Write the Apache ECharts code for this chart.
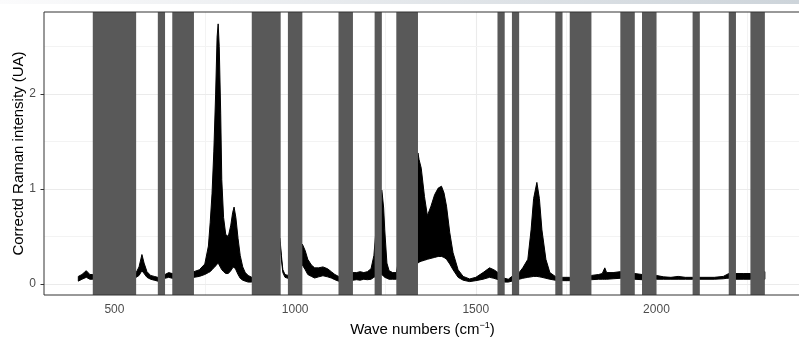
<!DOCTYPE html>
<html>
<head>
<meta charset="utf-8">
<script src="https://cdn.jsdelivr.net/npm/echarts@6/dist/echarts.min.js"></script>
<style>
  html, body { margin: 0; padding: 0; background: #ffffff; }
  #chart { width: 799px; height: 345px; }
</style>
</head>
<body>
<div id="chart"></div>
<script>
// Raman spectra: upper and lower envelopes of the set of corrected spectra
const wavenumbers = [
  400, 410, 422, 432, 440,
  560, 568, 576, 582, 590, 600, 610, 620,
  640, 650, 660,
  720, 735, 750, 760, 765, 770, 775, 780, 784, 787, 790, 794, 797, 802, 808, 815, 822, 827, 831, 836, 842, 848, 855, 862, 870, 880,
  958, 962, 966, 972, 980,
  1020, 1028, 1035, 1045, 1054, 1065, 1077, 1090, 1100, 1110, 1120,
  1160, 1170, 1180, 1190, 1200, 1210, 1218, 1232,
  1240, 1245, 1248, 1254, 1260, 1270, 1280,
  1340, 1343, 1349, 1358, 1366, 1376, 1386, 1396, 1405, 1412, 1419, 1428, 1437, 1451, 1465, 1483, 1500, 1520, 1538, 1550, 1558,
  1580, 1590, 1600,
  1620, 1630, 1644, 1653, 1660, 1669, 1676, 1683, 1694, 1705, 1720,
  1740, 1760,
  1820, 1840, 1850, 1857, 1862, 1880, 1900,
  1940, 1960,
  2000, 2020, 2040, 2060, 2080, 2100,
  2120, 2160, 2185, 2195, 2200,
  2220, 2240, 2260,
  2300
];
const upperEnvelope = [
  0.08, 0.10, 0.14, 0.10, 0.10,
  0.12, 0.18, 0.31, 0.22, 0.13, 0.09, 0.08, 0.07,
  0.10, 0.12, 0.11,
  0.13, 0.15, 0.21, 0.40, 0.65, 0.95, 1.40, 2.00, 2.60, 2.74, 2.50, 1.80, 1.10, 0.70, 0.52, 0.50, 0.62, 0.75, 0.81, 0.70, 0.48, 0.30, 0.18, 0.12, 0.09, 0.07,
  0.48, 0.30, 0.15, 0.10, 0.09,
  0.42, 0.35, 0.26, 0.20, 0.17, 0.17, 0.18, 0.16, 0.13, 0.10, 0.08,
  0.12, 0.12, 0.13, 0.12, 0.13, 0.16, 0.30, 0.95,
  0.99, 0.80, 0.57, 0.22, 0.14, 0.12, 0.12,
  1.38, 1.31, 1.22, 0.92, 0.72, 0.82, 0.94, 1.01, 1.03, 0.96, 0.82, 0.54, 0.33, 0.15, 0.08, 0.053, 0.07, 0.12, 0.17, 0.15, 0.13,
  0.06, 0.05, 0.08,
  0.12, 0.17, 0.26, 0.57, 0.90, 1.07, 0.90, 0.57, 0.26, 0.12, 0.08,
  0.07, 0.07,
  0.09, 0.10, 0.11, 0.17, 0.12, 0.12, 0.13,
  0.11, 0.10,
  0.09, 0.075, 0.07, 0.08, 0.07, 0.07,
  0.07, 0.07, 0.08, 0.10, 0.11,
  0.11, 0.11, 0.11,
  0.13
];
const lowerEnvelope = [
  0.03, 0.05, 0.07, 0.05, 0.05,
  0.07, 0.09, 0.14, 0.11, 0.07, 0.05, 0.04, 0.03,
  0.06, 0.07, 0.06,
  0.07, 0.08, 0.10, 0.12, 0.13, 0.15, 0.17, 0.19, 0.21, 0.22, 0.20, 0.17, 0.15, 0.13, 0.11, 0.11, 0.14, 0.17, 0.18, 0.15, 0.10, 0.06, 0.04, 0.03, 0.02, 0.02,
  0.44, 0.26, 0.12, 0.07, 0.06,
  0.20, 0.15, 0.10, 0.08, 0.063, 0.075, 0.087, 0.075, 0.063, 0.045, 0.03,
  0.04, 0.045, 0.04, 0.05, 0.045, 0.05, 0.07, 0.10,
  0.10, 0.08, 0.07, 0.06, 0.05, 0.05, 0.05,
  0.22, 0.23, 0.24, 0.25, 0.26, 0.27, 0.28, 0.29, 0.29, 0.28, 0.26, 0.21, 0.15, 0.07, 0.04, 0.025, 0.035, 0.05, 0.07, 0.06, 0.05,
  0.02, 0.02, 0.03,
  0.05, 0.06, 0.07, 0.075, 0.08, 0.08, 0.075, 0.07, 0.06, 0.05, 0.04,
  0.035, 0.035,
  0.045, 0.05, 0.05, 0.05, 0.05, 0.055, 0.06,
  0.05, 0.045,
  0.05, 0.05, 0.05, 0.05, 0.05, 0.05,
  0.05, 0.05, 0.055, 0.06, 0.06,
  0.05, 0.05, 0.05,
  0.05
];

// Spectral windows masked out of the analysis (start, end in cm-1)
const maskedWindows = [
  [440, 560], [620, 640], [660, 720], [880, 960], [980, 1020],
  [1120, 1160], [1220, 1240], [1280, 1340], [1560, 1580], [1600, 1620],
  [1720, 1740], [1760, 1820], [1900, 1940], [1960, 2000], [2100, 2120],
  [2200, 2220], [2260, 2300]
];

// Axis ticks and grid
const xTicks = [500, 1000, 1500, 2000];
const xMinorGrid = [750, 1250, 1750, 2250];
const yTicks = [0, 1, 2];
const yMinorGrid = [0.5, 1.5, 2.5];

const xRange = [305, 2400];
const yRange = [-0.116, 2.865];

const gridLines = [];
xTicks.forEach(v => gridLines.push({ xAxis: v, lineStyle: { color: '#EBEBEB', width: 1.1 } }));
xMinorGrid.forEach(v => gridLines.push({ xAxis: v, lineStyle: { color: '#F3F3F3', width: 1 } }));
yTicks.forEach(v => gridLines.push({ yAxis: v, lineStyle: { color: '#EBEBEB', width: 1.1 } }));
yMinorGrid.forEach(v => gridLines.push({ yAxis: v, lineStyle: { color: '#F3F3F3', width: 1 } }));

// Filled band between the lowest and highest spectrum
function renderEnvelope(params, api) {
  const pts = [];
  for (let i = 0; i < wavenumbers.length; i++) {
    pts.push(api.coord([wavenumbers[i], upperEnvelope[i]]));
  }
  for (let i = wavenumbers.length - 1; i >= 0; i--) {
    pts.push(api.coord([wavenumbers[i], lowerEnvelope[i]]));
  }
  return {
    type: 'polygon',
    shape: { points: pts },
    style: { fill: '#000000', stroke: '#000000', lineWidth: 1, lineJoin: 'round' }
  };
}

const chart = echarts.init(document.getElementById('chart'), null, { renderer: 'canvas' });

const axisFont = { fontFamily: '"Liberation Sans", Arial, sans-serif', fontSize: 12, color: '#4D4D4D' };

chart.setOption({
  animation: false,
  backgroundColor: '#ffffff',
  graphic: [{
    type: 'rect',
    left: 0, top: 0,
    shape: { width: 799, height: 4 },
    style: {
      fill: new echarts.graphic.LinearGradient(0, 0, 1, 0, [
        { offset: 0, color: '#fbfbfc' },
        { offset: 1, color: '#cdd4da' }
      ])
    },
    silent: true
  }],
  grid: {
    left: 44, top: 12, right: -2, bottom: 50,
    outerBoundsMode: 'none',
    containLabel: false,
    show: true, z: 20,
    backgroundColor: 'transparent',
    borderColor: '#333333', borderWidth: 1
  },
  xAxis: {
    type: 'value',
    min: xRange[0], max: xRange[1],
    name: 'Wave numbers (cm{sup|−1})',
    nameLocation: 'middle',
    nameGap: 26,
    nameMoveOverlap: false,
    nameTextStyle: {
      fontFamily: '"Liberation Sans", Arial, sans-serif',
      fontSize: 15, color: '#000000',
      rich: { sup: { fontSize: 9, padding: [0, 0, 9, 0], color: '#000000' } }
    },
    axisLine: { show: false },
    axisTick: { show: true, length: 3.5, customValues: xTicks, lineStyle: { color: '#333333', width: 1 } },
    axisLabel: Object.assign({ margin: 9, customValues: xTicks, formatter: v => String(v) }, axisFont),
    splitLine: { show: false }
  },
  yAxis: {
    type: 'value',
    min: yRange[0], max: yRange[1],
    name: 'Correctd Raman intensity (UA)',
    nameLocation: 'middle',
    nameGap: 18,
    nameMoveOverlap: false,
    nameTextStyle: { fontFamily: '"Liberation Sans", Arial, sans-serif', fontSize: 15, color: '#000000' },
    axisLine: { show: false },
    axisTick: { show: true, length: 3.5, customValues: yTicks, lineStyle: { color: '#333333', width: 1 } },
    axisLabel: Object.assign({ margin: 8, customValues: yTicks, formatter: v => String(v) }, axisFont),
    splitLine: { show: false }
  },
  series: [
    {
      name: 'grid',
      type: 'line',
      data: [],
      silent: true,
      markLine: {
        silent: true, z: 1,
        symbol: ['none', 'none'],
        label: { show: false },
        lineStyle: { type: 'solid' },
        data: gridLines
      }
    },
    {
      name: 'spectra',
      type: 'custom',
      coordinateSystem: 'cartesian2d',
      data: [[wavenumbers[0], lowerEnvelope[0]]],
      renderItem: renderEnvelope,
      z: 3,
      silent: true
    },
    {
      name: 'masked',
      type: 'line',
      data: [],
      silent: true,
      markArea: {
        silent: true, z: 10,
        itemStyle: { color: '#595959', opacity: 1 },
        label: { show: false },
        data: maskedWindows.map(w => [{ xAxis: w[0] }, { xAxis: w[1] }])
      }
    }
  ]
});
</script>
</body>
</html>
